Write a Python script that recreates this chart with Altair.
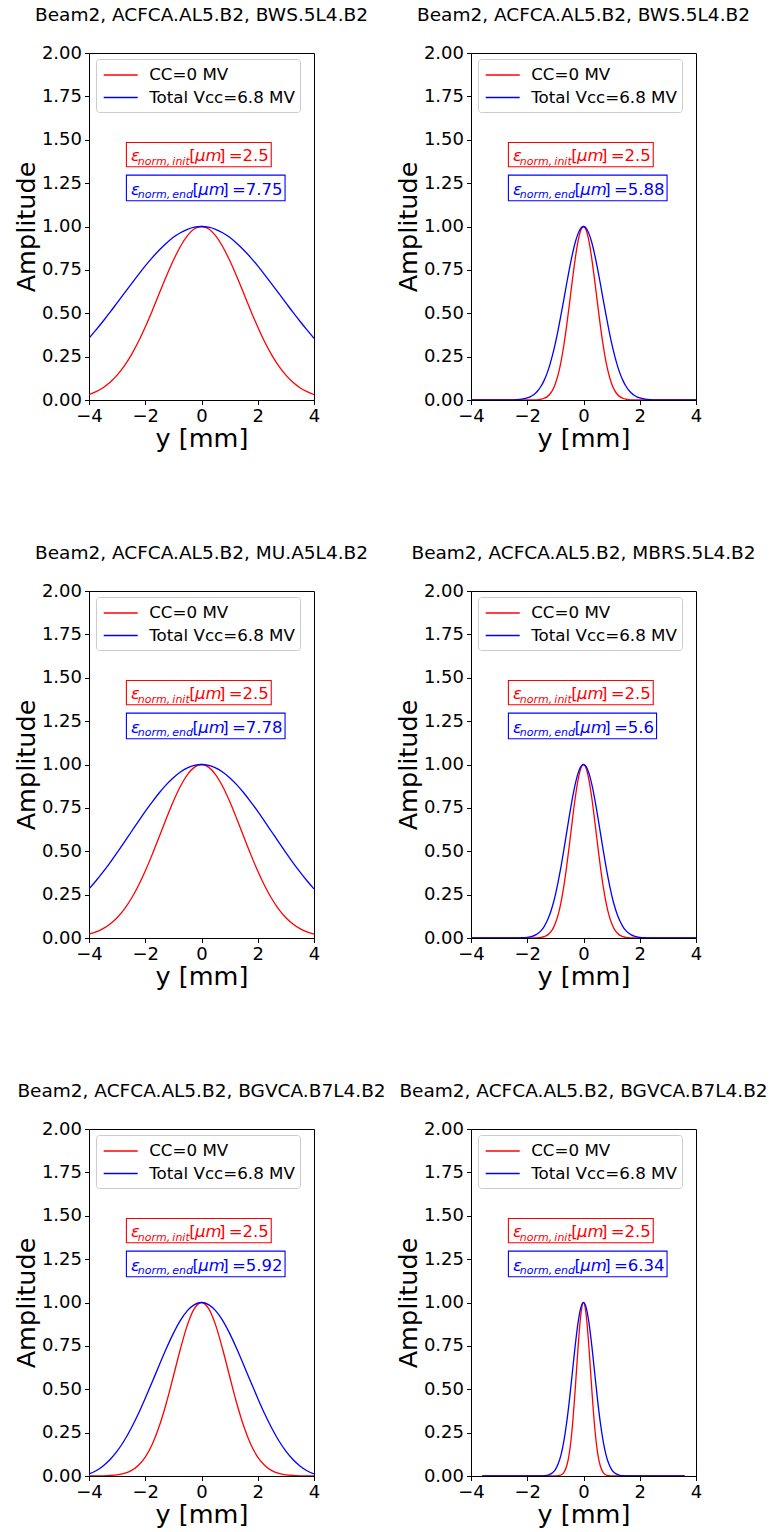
import altair as alt
import pandas as pd

FONT = "DejaVu Sans"

TITLES = [
    "Beam2, ACFCA.AL5.B2, BWS.5L4.B2",
    "Beam2, ACFCA.AL5.B2, BWS.5L4.B2",
    "Beam2, ACFCA.AL5.B2, MU.A5L4.B2",
    "Beam2, ACFCA.AL5.B2, MBRS.5L4.B2",
    "Beam2, ACFCA.AL5.B2, BGVCA.B7L4.B2",
    "Beam2, ACFCA.AL5.B2, BGVCA.B7L4.B2",
]
SERIES = ["CC=0 MV", "Total Vcc=6.8 MV"]
COLORS = ["#ff0000", "#0000ff"]
EPS_INIT = ["2.5", "2.5", "2.5", "2.5", "2.5", "2.5"]
EPS_END = ["7.75", "5.88", "7.78", "5.6", "5.92", "6.34"]

X_TICKS = [-4, -2, 0, 2, 4]
Y_TICKS = [0.0, 0.25, 0.5, 0.75, 1.0, 1.25, 1.5, 1.75, 2.0]

# sample positions (mm) for the broad profiles
WIDE_X = [-4.0, -3.75, -3.5, -3.25, -3.0, -2.75, -2.5, -2.25, -2.0, -1.75, -1.5,
          -1.25, -1.0, -0.75, -0.5, -0.25, 0.0, 0.25, 0.5, 0.75, 1.0, 1.25, 1.5,
          1.75, 2.0, 2.25, 2.5, 2.75, 3.0, 3.25, 3.5, 3.75, 4.0]
# sample positions (mm) for the narrow profiles
NARROW_X = [-4.0, -3.0, -2.5, -2.25, -2.0, -1.9, -1.8, -1.7, -1.6, -1.5, -1.4, -1.3,
            -1.2, -1.1, -1.0, -0.9, -0.8, -0.7, -0.6, -0.5, -0.4, -0.3, -0.2, -0.1,
            0.0, 0.1, 0.2, 0.3, 0.4, 0.5, 0.6, 0.7, 0.8, 0.9, 1.0, 1.1, 1.2, 1.3,
            1.4, 1.5, 1.6, 1.7, 1.8, 1.9, 2.0, 2.25, 2.5, 3.0, 4.0]
NARROW_X6 = [-3.6, -3.0, -2.5, -2.25, -2.0, -1.9, -1.8, -1.7, -1.6, -1.5, -1.4, -1.3,
             -1.2, -1.1, -1.0, -0.9, -0.8, -0.7, -0.6, -0.5, -0.4, -0.3, -0.2, -0.1,
             0.0, 0.1, 0.2, 0.3, 0.4, 0.5, 0.6, 0.7, 0.8, 0.9, 1.0, 1.1, 1.2, 1.3,
             1.4, 1.5, 1.6, 1.7, 1.8, 1.9, 2.0, 2.25, 2.5, 3.0, 3.6]

P1_RED = [0.031, 0.048, 0.071, 0.102, 0.143, 0.195, 0.259, 0.334, 0.421, 0.515, 0.615,
          0.713, 0.805, 0.885, 0.947, 0.987, 1.000, 0.987, 0.947, 0.885, 0.805, 0.713,
          0.615, 0.515, 0.421, 0.334, 0.259, 0.195, 0.143, 0.102, 0.071, 0.048, 0.031]
P1_BLUE = [0.356, 0.404, 0.454, 0.506, 0.560, 0.614, 0.668, 0.721, 0.773, 0.821, 0.865,
           0.904, 0.938, 0.964, 0.984, 0.996, 1.000, 0.996, 0.984, 0.964, 0.938, 0.904,
           0.865, 0.821, 0.773, 0.721, 0.668, 0.614, 0.560, 0.506, 0.454, 0.404, 0.356]
P3_RED = [0.022, 0.035, 0.054, 0.081, 0.117, 0.165, 0.226, 0.300, 0.386, 0.482, 0.585,
          0.689, 0.788, 0.875, 0.942, 0.985, 1.000, 0.985, 0.942, 0.875, 0.788, 0.689,
          0.585, 0.482, 0.386, 0.300, 0.226, 0.165, 0.117, 0.081, 0.054, 0.035, 0.022]
P3_BLUE = [0.283, 0.330, 0.381, 0.435, 0.492, 0.551, 0.611, 0.671, 0.730, 0.785, 0.837,
           0.884, 0.924, 0.957, 0.981, 0.995, 1.000, 0.995, 0.981, 0.957, 0.924, 0.884,
           0.837, 0.785, 0.730, 0.671, 0.611, 0.551, 0.492, 0.435, 0.381, 0.330, 0.283]
P5_RED = [0.000, 0.000, 0.001, 0.003, 0.007, 0.015, 0.031, 0.061, 0.109, 0.183, 0.288,
          0.421, 0.575, 0.732, 0.871, 0.966, 1.000, 0.966, 0.871, 0.732, 0.575, 0.421,
          0.288, 0.183, 0.109, 0.061, 0.031, 0.015, 0.007, 0.003, 0.001, 0.000, 0.000]
P5_BLUE = [0.012, 0.030, 0.058, 0.095, 0.143, 0.203, 0.275, 0.357, 0.448, 0.543, 0.640,
           0.735, 0.822, 0.897, 0.953, 0.988, 1.000, 0.988, 0.953, 0.897, 0.822, 0.735,
           0.640, 0.543, 0.448, 0.357, 0.275, 0.203, 0.143, 0.095, 0.058, 0.030, 0.012]

P2_RED = [0.0, 0.0, 0.0, 0.0, 0.0, 0.0, 0.001, 0.001, 0.002, 0.005, 0.010, 0.018,
          0.033, 0.057, 0.094, 0.148, 0.220, 0.314, 0.427, 0.554, 0.685, 0.808, 0.910,
          0.977, 1.000, 0.977, 0.910, 0.808, 0.685, 0.554, 0.427, 0.314, 0.220, 0.148,
          0.094, 0.057, 0.033, 0.018, 0.010, 0.005, 0.002, 0.001, 0.001, 0.0, 0.0, 0.0,
          0.0, 0.0, 0.0]
P2_BLUE = [0.0, 0.0, 0.001, 0.004, 0.012, 0.018, 0.027, 0.040, 0.058, 0.082, 0.113,
           0.152, 0.201, 0.260, 0.328, 0.406, 0.490, 0.579, 0.670, 0.757, 0.837, 0.905,
           0.956, 0.989, 1.000, 0.989, 0.956, 0.905, 0.837, 0.757, 0.670, 0.579, 0.490,
           0.406, 0.328, 0.260, 0.201, 0.152, 0.113, 0.082, 0.058, 0.040, 0.027, 0.018,
           0.012, 0.004, 0.001, 0.0, 0.0]
P4_RED = [0.0, 0.0, 0.0, 0.0, 0.0, 0.0, 0.0, 0.001, 0.002, 0.004, 0.008, 0.015,
          0.029, 0.050, 0.085, 0.135, 0.206, 0.298, 0.411, 0.539, 0.674, 0.801, 0.906,
          0.976, 1.000, 0.976, 0.906, 0.801, 0.674, 0.539, 0.411, 0.298, 0.206, 0.135,
          0.085, 0.050, 0.029, 0.015, 0.008, 0.004, 0.002, 0.001, 0.0, 0.0, 0.0, 0.0,
          0.0, 0.0, 0.0]
P4_BLUE = [0.0, 0.0, 0.0, 0.001, 0.004, 0.007, 0.011, 0.018, 0.029, 0.044, 0.066,
           0.096, 0.135, 0.186, 0.249, 0.325, 0.411, 0.506, 0.607, 0.707, 0.801, 0.882,
           0.946, 0.986, 1.000, 0.986, 0.946, 0.882, 0.801, 0.707, 0.607, 0.506, 0.411,
           0.325, 0.249, 0.186, 0.135, 0.096, 0.066, 0.044, 0.029, 0.018, 0.011, 0.007,
           0.004, 0.001, 0.0, 0.0, 0.0]
P6_RED = [0.0, 0.0, 0.0, 0.0, 0.0, 0.0, 0.0, 0.0, 0.0, 0.0, 0.0, 0.0, 0.0, 0.0, 0.0,
          0.002, 0.006, 0.020, 0.056, 0.135, 0.278, 0.487, 0.726, 0.923, 1.000,
          0.923, 0.726, 0.487, 0.278, 0.135, 0.056, 0.020, 0.006, 0.002,
          0.0, 0.0, 0.0, 0.0, 0.0, 0.0, 0.0, 0.0, 0.0, 0.0, 0.0, 0.0, 0.0, 0.0, 0.0]
P6_BLUE = [0.0, 0.0, 0.0, 0.0, 0.0, 0.0, 0.0, 0.0, 0.0, 0.001, 0.002, 0.004, 0.009,
           0.019, 0.037, 0.070, 0.122, 0.200, 0.306, 0.439, 0.591, 0.744, 0.877, 0.968,
           1.000, 0.968, 0.877, 0.744, 0.591, 0.439, 0.306, 0.200, 0.122, 0.070, 0.037,
           0.019, 0.009, 0.004, 0.002, 0.001, 0.0, 0.0, 0.0, 0.0, 0.0, 0.0, 0.0, 0.0, 0.0]

PANELS = [
    (WIDE_X, P1_RED, P1_BLUE),
    (NARROW_X, P2_RED, P2_BLUE),
    (WIDE_X, P3_RED, P3_BLUE),
    (NARROW_X, P4_RED, P4_BLUE),
    (WIDE_X, P5_RED, P5_BLUE),
    (NARROW_X6, P6_RED, P6_BLUE),
]

W, H = 225, 347
PX_X = W / 8.0
XSCALE = alt.Scale(domain=[-4, 4], nice=False, zero=False)
YSCALE = alt.Scale(domain=[0, 2], nice=False, zero=False)

# approximate DejaVu advance widths (em) used to size the annotation boxes
ADV = {'n': 0.634, 'o': 0.612, 'r': 0.411, 'm': 0.974, ',': 0.318, '\u2009': 0.2,
       'i': 0.278, 't': 0.392, 'e': 0.615, 'd': 0.635, ']': 0.390, '=': 0.838,
       '.': 0.318}


def adv(s, size):
    return sum(ADV.get(c, 0.636) for c in s) * size


MAIN = 16.5
SUB = 11.0
BOX_LEFT = -2.67


def xo(px):
    return BOX_LEFT + px / PX_X


def text_layer(x, y, s, color, size, italic, dy=0):
    d = pd.DataFrame({'x': [x], 'amp': [y], 't': [s]})
    return alt.Chart(d).mark_text(
        align='left', baseline='alphabetic', font=FONT, fontSize=size,
        fontStyle='italic' if italic else 'normal', color=color, dy=dy
    ).encode(x=alt.X('x:Q', scale=XSCALE), y=alt.Y('amp:Q', scale=YSCALE), text='t:N')


def annotation(sub, value, color, base, top, bottom):
    sub_x = 11.3
    lb = sub_x + adv(sub, SUB) - 0.5
    mu = lb + 5.7
    rb = mu + 24.0
    tail = "]\u2009=" + value
    right = rb + adv(tail, MAIN) + 2.5
    box = alt.Chart(pd.DataFrame({'x': [xo(0)], 'x2': [xo(right)], 'amp': [top], 'amp2': [bottom]})).mark_rect(
        fillOpacity=0, stroke=color, strokeWidth=1.1
    ).encode(x=alt.X('x:Q', scale=XSCALE), x2='x2:Q', y=alt.Y('amp:Q', scale=YSCALE), y2='amp2:Q')
    return [
        box,
        text_layer(xo(4.5), base, "\u03b5", color, MAIN, True),
        text_layer(xo(sub_x), base, sub, color, SUB, True, dy=3.7),
        text_layer(xo(lb), base, "[", color, MAIN, False),
        text_layer(xo(mu), base, "\u03bcm", color, MAIN, True),
        text_layer(xo(rb), base, tail, color, MAIN, False),
    ]


def panel(i):
    xs, red, blue = PANELS[i]
    df = pd.DataFrame({
        'x': list(xs) + list(xs),
        'amp': list(red) + list(blue),
        'series': [SERIES[0]] * len(xs) + [SERIES[1]] * len(xs),
    })
    lines = alt.Chart(df).mark_line(strokeWidth=1.3, interpolate='monotone', clip=True).encode(
        x=alt.X('x:Q', scale=XSCALE,
                axis=alt.Axis(values=X_TICKS, title='y [mm]', labelFlush=False,
                              labelOverlap=False, titlePadding=1)),
        y=alt.Y('amp:Q', scale=YSCALE,
                axis=alt.Axis(values=Y_TICKS, format='.2f', title='Amplitude',
                              labelOverlap=False, titlePadding=2)),
        color=alt.Color('series:N', scale=alt.Scale(domain=SERIES, range=COLORS),
                        legend=alt.Legend(
                            title=None, orient='none', legendX=7, legendY=6,
                            padding=5, fillColor='white', strokeColor='#cccccc',
                            cornerRadius=3, labelFont=FONT, labelFontSize=16.7,
                            labelColor='black', labelLimit=400,
                            symbolType='M-1.7,0H1.7', symbolSize=400,
                            symbolStrokeWidth=1.5, symbolOffset=8.7,
                            labelOffset=17.5, rowPadding=2.6)),
    )
    layers = [lines]
    layers += annotation("norm,\u2009init", EPS_INIT[i], COLORS[0], 1.377, 1.484, 1.344)
    layers += annotation("norm,\u2009end", EPS_END[i], COLORS[1], 1.184, 1.296, 1.148)
    return alt.layer(*layers).properties(
        width=W, height=H,
        title=alt.TitleParams(text=TITLES[i], font=FONT, fontSize=18.5, fontWeight='normal',
                              color='black', anchor='middle', frame='group',
                              baseline='alphabetic', offset=5),
    )


chart = alt.concat(
    *[panel(i) for i in range(6)], columns=2,
    spacing={'row': 191, 'column': 157}, bounds='flush'
).resolve_scale(color='independent').properties(
    padding={'left': 13, 'top': 5, 'right': 0, 'bottom': 5},
    background='white',
).configure_view(stroke='black', strokeWidth=1).configure_axis(
    grid=False, domainColor='black', tickColor='black', labelColor='black',
    titleColor='black', labelFont=FONT, titleFont=FONT, labelFontSize=18,
    titleFontSize=25.5, titleFontWeight='normal', tickSize=4.5, labelPadding=3,
    domainWidth=1, tickWidth=1,
)

chart.save("out.html", embed_options={"renderer": "svg", "actions": False})
